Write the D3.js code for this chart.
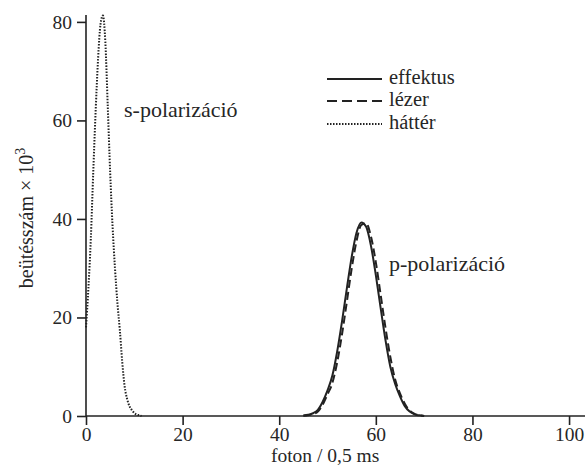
<!DOCTYPE html>
<html>
<head>
<meta charset="utf-8">
<script src="https://cdn.jsdelivr.net/npm/d3@7"></script>
<style>
html,body{margin:0;padding:0;background:#fff;}
svg{display:block;}
svg text{font-family:'Liberation Serif','DejaVu Serif','Times New Roman',serif !important;fill:#262626;}
</style>
</head>
<body>
<svg id="chart" width="586" height="467"></svg>
<script>
// ---- data ----
const xTicks = [0, 20, 40, 60, 80, 100];
const yTicks = [0, 20, 40, 60, 80];

// háttér (dotted, s-polarizáció)
const hatterX = [0, 0.5, 1, 1.5, 2, 2.5, 3, 3.5, 4, 4.5, 5, 5.5, 6, 6.5, 7, 7.5, 8, 8.5, 9, 9.5, 10, 10.5, 11, 11.5];
const hatterY = [18, 26, 36, 49.5, 62, 72.5, 79.5, 81.3, 76, 63, 49.5, 38.5, 30, 23, 17.5, 11, 6, 3.5, 2, 1.2, 0.6, 0.3, 0.15, 0];

// effektus (solid) and lézer (dashed), p-polarizáció
const pX = [45, 46, 47, 48, 49, 50, 51, 52, 53, 54, 55, 56, 57, 58, 59, 60, 61, 62, 63, 64, 65, 66, 67, 68, 69, 70];
const effektusY = [0.09, 0.24, 0.56, 1.25, 2.9, 5.2, 8.2, 13.1, 19.2, 25.9, 32.3, 37.2, 39.3, 38.4, 34.5, 28.6, 21.9, 15.4, 10.0, 6.5, 4.0, 2.0, 0.9, 0.34, 0.13, 0.0];
const lezerY =    [0.06, 0.16, 0.4, 0.92, 2.3, 4.4, 6.7, 10.9, 16.6, 23.2, 29.9, 35.5, 38.8, 39.1, 36.4, 31.2, 24.6, 17.9, 12.0, 7.4, 4.6, 2.5, 1.1, 0.45, 0.15, 0.0];

const legendLabels = ["effektus", "lézer", "háttér"];
const annotations = ["s-polarizáció", "p-polarizáció"];

// ---- drawing ----
const FONT = "'Liberation Serif','DejaVu Serif',serif";
const svg = d3.select("#chart");
const x = d3.scaleLinear().domain([0, 103.3]).range([86, 585]);
const y = d3.scaleLinear().domain([0, 81.4]).range([416, 15]);
const FS_TICK = 19.5, FS_LEG = 20.5, FS_ANN = 22, FS_X = 19.5, FS_Y = 20;

// axes
const xAxis = d3.axisBottom(x).tickValues(xTicks).tickSize(9).tickPadding(2).tickFormat(d3.format("d"));
const yAxis = d3.axisLeft(y).tickValues(yTicks).tickSize(9).tickPadding(5).tickFormat(d3.format("d"));

const gx = svg.append("g").attr("transform", `translate(0,${y(0)})`).call(xAxis);
const gy = svg.append("g").attr("transform", `translate(${x(0)},0)`).call(yAxis);
[gx, gy].forEach(g => {
  g.attr("font-family", FONT).attr("font-size", FS_TICK);
  g.select(".domain").attr("stroke", "#222").attr("stroke-width", 1.6);
  g.selectAll(".tick line").attr("stroke", "#222").attr("stroke-width", 1.6);
  g.selectAll(".tick text").style("font-family", FONT).style("font-size", FS_TICK + "px").attr("fill", "#262626");
});
gx.select(".domain").attr("d", `M${x(0)},0H${x(103.3)}`);
gy.select(".domain").attr("d", `M0,${y(0)}V${y(81.4)}`);

// curves
const line = d3.line().x(d => x(d[0])).y(d => y(d[1])).curve(d3.curveMonotoneX);
const hatter = hatterX.map((v, i) => [v, hatterY[i]]);
const eff = pX.map((v, i) => [v, effektusY[i]]);
const lez = pX.map((v, i) => [v, lezerY[i]]);

svg.append("path").datum(hatter).attr("d", line).attr("fill", "none")
  .attr("stroke", "#222").attr("stroke-width", 2).attr("stroke-dasharray", "1.5,1.5");
svg.append("path").datum(lez).attr("d", line).attr("fill", "none")
  .attr("stroke", "#222").attr("stroke-width", 2).attr("stroke-dasharray", "8,4");
svg.append("path").datum(eff).attr("d", line).attr("fill", "none")
  .attr("stroke", "#222").attr("stroke-width", 2);

// legend
const legStyles = [null, "10,5", "1.5,1.5"];
const legY = [79, 101, 124];
legendLabels.forEach((lab, i) => {
  svg.append("line").attr("x1", 327).attr("x2", 382).attr("y1", legY[i]).attr("y2", legY[i])
    .attr("stroke", "#222").attr("stroke-width", i === 2 ? 1.8 : 2)
    .attr("stroke-dasharray", legStyles[i]);
  svg.append("text").attr("x", 389).attr("y", legY[i] + 5).style("font-family", FONT).style("font-size", FS_LEG + "px").text(lab);
});

// annotations
svg.append("text").attr("x", 124).attr("y", 117).style("font-family", FONT).style("font-size", FS_ANN + "px").text(annotations[0]);
svg.append("text").attr("x", 389).attr("y", 271).style("font-family", FONT).style("font-size", FS_ANN + "px").text(annotations[1]);

// axis titles
svg.append("text").attr("x", x(49.5)).attr("y", 462).attr("text-anchor", "middle")
  .style("font-family", FONT).style("font-size", FS_X + "px").text("foton / 0,5 ms");
const yl = svg.append("text").attr("transform", `translate(33,218) rotate(-90)`)
  .attr("text-anchor", "middle").style("font-family", FONT).style("font-size", FS_Y + "px");
yl.append("tspan").text("beütésszám × 10");
yl.append("tspan").style("font-size", "14px").attr("dy", -8).text("3");
</script>
</body>
</html>
